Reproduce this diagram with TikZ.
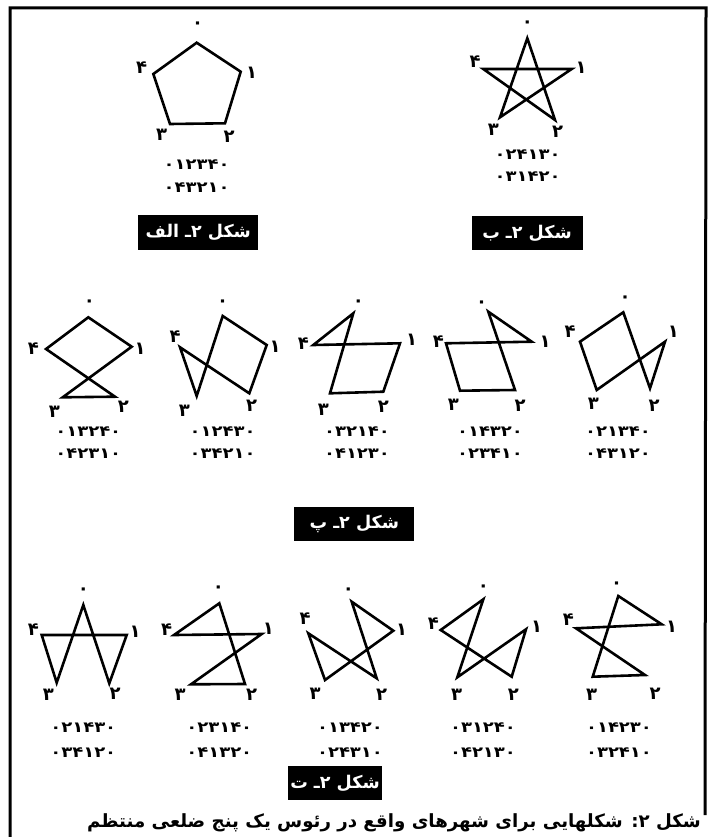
\documentclass[tikz,border=0pt]{standalone}
\usepackage{fontspec}
\usepackage{graphicx}
\newfontfamily\fa[Script=Arabic]{DejaVu Sans}
\TeXXeTstate=1
\newcommand\pd[1]{\ifcase#1 ۰\or ۱\or ۲\or ۳\or ۴\fi}
\newcommand\verts[6]{%
  \coordinate (#1-0) at #2; \coordinate (#1-1) at #3; \coordinate (#1-2) at #4;
  \coordinate (#1-3) at #5; \coordinate (#1-4) at #6;}
\newcommand\labs[6]{%
  \node[vlab] (#1-l0) at #2 {\pd0}; \node[vlab] (#1-l1) at #3 {\pd1};
  \node[vlab] (#1-l2) at #4 {\pd2}; \node[vlab] (#1-l3) at #5 {\pd3};
  \node[vlab] (#1-l4) at #6 {\pd4};}
\newcommand\tour[6]{\draw[edge] (#1-#2)--(#1-#3)--(#1-#4)--(#1-#5)--(#1-#6)--cycle;}
\newcommand\seqs[6]{%
  \node[seqtxt] (#1-s1) at (#2,#3) {\scalebox{1.2}[1]{#5}};
  \node[seqtxt] (#1-s2) at (#2,#4) {\scalebox{1.2}[1]{#6}};}
\tikzset{
  edge/.style={line width=2.6pt, line join=miter},
  vlab/.style={inner sep=0pt, font=\fa\bfseries\fontsize{18}{18}\selectfont},
  seqtxt/.style={inner sep=0pt, font=\fa\bfseries\fontsize{15}{15}\selectfont},
  tagbox/.style={fill=black, text=white, inner sep=0pt, font=\fa\bfseries\fontsize{17.5}{17.5}\selectfont},
  frame/.style={line width=3pt}
}
\begin{document}
\begin{tikzpicture}[x=1pt,y=-1pt]
\useasboundingbox (0,0) rectangle (713,837);
% frame
\coordinate (fbl) at (10,837);
\coordinate (ftl) at (10,8);
\coordinate (ftr) at (706,8);
\coordinate (fbr) at (705,815);
\draw[frame] (fbl) -- (ftl) -- (ftr) -- (fbr);

% Figure 2-alef
\verts{A}{(196.7,42.7)}{(240.7,71.7)}{(225,123.3)}{(170,124)}{(153.3,74)}
\tour{A}01234
\labs{A}{(197.7,25)}{(251.7,73)}{(229,137)}{(161.7,135)}{(141.7,68)}
\seqs{A}{196.7}{165}{188}{۰۱۲۳۴۰}{۰۴۳۲۱۰}
\node[tagbox, minimum width=120pt, minimum height=35pt] (tagA) at (198.3,232.5) {\beginR شکل ۲ـ الف\endR};

% Figure 2-b
\verts{B}{(527.3,38.3)}{(571.7,69)}{(555,120)}{(500,117.3)}{(483.3,69)}
\tour{B}02413
\labs{B}{(527.3,24)}{(581,68)}{(557.5,132)}{(493.3,130)}{(475,61.7)}
\seqs{B}{527.7}{155}{177}{۰۲۴۱۳۰}{۰۳۱۴۲۰}
\node[tagbox, minimum width=111pt, minimum height=34pt] (tagB) at (527,233) {\beginR شکل ۲ـ ب\endR};

% Row p
\verts{P1}{(88.3,317.3)}{(131.7,346.7)}{(115,396.7)}{(62.7,397.3)}{(46,349)}
\tour{P1}01324
\labs{P1}{(89.3,303.3)}{(140,348.3)}{(123.3,406.7)}{(54.3,411.7)}{(33.3,348.3)}
\seqs{P1}{88.3}{431.7}{454}{۰۱۳۲۴۰}{۰۴۲۳۱۰}

\verts{P2}{(222.7,316)}{(266.7,345)}{(249.3,393.3)}{(196.7,396)}{(180,347.3)}
\tour{P2}01243
\labs{P2}{(222.7,303.3)}{(275,346.7)}{(251.7,406)}{(184.3,410.7)}{(175,336.7)}
\seqs{P2}{222.7}{431.7}{454}{۰۱۲۴۳۰}{۰۳۴۲۱۰}

\verts{P3}{(353.3,313.3)}{(400,343.3)}{(383.3,391.7)}{(330,393.3)}{(313.3,345)}
\tour{P3}03214
\labs{P3}{(358.3,303)}{(411.7,340)}{(383.3,406.7)}{(323.3,410)}{(303.3,343.3)}
\seqs{P3}{357}{431.7}{454}{۰۳۲۱۴۰}{۰۴۱۲۳۰}

\verts{P4}{(488.3,311.7)}{(531.7,341.7)}{(515,390)}{(460,390.7)}{(446,343.3)}
\tour{P4}01432
\labs{P4}{(481.7,304)}{(545,341.7)}{(520,406)}{(453.3,405)}{(438.3,341.7)}
\seqs{P4}{490}{431.7}{454}{۰۱۴۳۲۰}{۰۲۳۴۱۰}

\verts{P5}{(623.3,312.3)}{(665,341.7)}{(650,388.3)}{(596.7,390)}{(580,341.7)}
\tour{P5}02134
\labs{P5}{(625,299.3)}{(673.3,331.7)}{(654,406)}{(593.3,404)}{(570,331.7)}
\seqs{P5}{618}{431.7}{454}{۰۲۱۳۴۰}{۰۴۳۱۲۰}

\node[tagbox, minimum width=120pt, minimum height=34pt] (tagP) at (354.3,523.8) {\beginR شکل ۲ـ پ\endR};

% Row t
\verts{T1}{(83.3,605)}{(126.7,635)}{(109.3,683.3)}{(56.7,682.7)}{(41.7,635)}
\tour{T1}02143
\labs{T1}{(83.3,590.7)}{(135,631.7)}{(115,693.3)}{(48.3,695)}{(33.3,630)}
\seqs{T1}{83.3}{727.5}{752.5}{۰۲۱۴۳۰}{۰۳۴۱۲۰}

\verts{T2}{(219.3,603.3)}{(261.7,634)}{(245,684)}{(191,684.3)}{(174,635)}
\tour{T2}02314
\labs{T2}{(218.3,589.3)}{(268.3,628.3)}{(251.7,695)}{(180,695)}{(166.7,630)}
\seqs{T2}{219.3}{727.5}{752.5}{۰۲۳۱۴۰}{۰۴۱۳۲۰}

\verts{T3}{(351.7,601.7)}{(393.3,630.7)}{(376.7,678.3)}{(325,680)}{(308.3,633.3)}
\tour{T3}01342
\labs{T3}{(348.3,590.7)}{(401.7,630)}{(381.7,695)}{(315,693.3)}{(305,618.3)}
\seqs{T3}{350}{727.5}{752.5}{۰۱۳۴۲۰}{۰۲۴۳۱۰}

\verts{T4}{(483.3,599.3)}{(526,629.3)}{(511.7,676.7)}{(457.3,677.3)}{(440.7,630)}
\tour{T4}03124
\labs{T4}{(483.3,588.3)}{(536.7,626.7)}{(513.3,695)}{(456.7,695)}{(433.3,623.3)}
\seqs{T4}{483}{727.5}{752.5}{۰۳۱۲۴۰}{۰۴۲۱۳۰}

\verts{T5}{(618.3,596)}{(661.7,624.3)}{(645,675)}{(592.7,676.7)}{(576,628.3)}
\tour{T5}01423
\labs{T5}{(616.7,585)}{(671.7,626.7)}{(655,693.3)}{(591.7,695)}{(568.3,620)}
\seqs{T5}{619}{727.5}{752.5}{۰۱۴۲۳۰}{۰۳۲۴۱۰}

\node[tagbox, minimum width=94pt, minimum height=34pt] (tagT) at (335,783) {\beginR شکل ۲ـ ت\endR};

% caption
\node[anchor=east, inner sep=0pt, font=\fa\bfseries\fontsize{18.2}{18.2}\selectfont] (cap) at (701,823)
  {\beginR شکل ۲: شکلهایی برای شهرهای واقع در رئوس یک پنج ضلعی منتظم\endR};
\end{tikzpicture}
\end{document}
